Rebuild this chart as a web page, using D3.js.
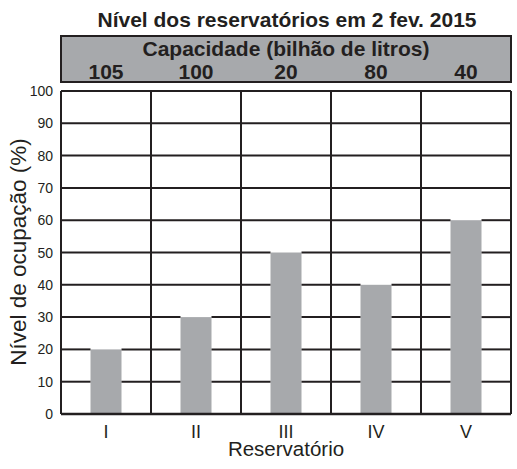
<!DOCTYPE html>
<html><head><meta charset="utf-8">
<script src="https://cdn.jsdelivr.net/npm/d3@7"></script>
<style>body{margin:0;background:#fff;} svg{display:block;font-family:"Liberation Sans",Arial,sans-serif;}</style>
</head><body>
<script>
const reservoirs = ["I","II","III","IV","V"];
const capacities = [105,100,20,80,40];
const occupancy = [20,30,50,40,60];
const yTicks = [0,10,20,30,40,50,60,70,80,90,100];

const W=517,H=469;
const L=61,R=511,T=91,B=414;
const ink="#231f20", grey="#a7a9ac";
const svg=d3.select("body").append("svg").attr("width",W).attr("height",H);

const x=d3.scaleBand().domain(reservoirs).range([L,R]);
const y=d3.scaleLinear().domain([0,100]).range([B,T]);

// title
svg.append("text").attr("x",287).attr("y",27).attr("text-anchor","middle")
  .attr("font-size",21).attr("font-weight","bold").attr("fill",ink)
  .text("Nível dos reservatórios em 2 fev. 2015");

// header box
svg.append("rect").attr("x",L).attr("y",36).attr("width",R-L).attr("height",46)
  .attr("fill",grey).attr("stroke",ink).attr("stroke-width",2);
svg.append("text").attr("x",(L+R)/2).attr("y",56).attr("text-anchor","middle")
  .attr("font-size",21).attr("font-weight","bold").attr("fill",ink)
  .text("Capacidade (bilhão de litros)");
svg.selectAll(".cap").data(capacities).join("text")
  .attr("x",(d,i)=>x(reservoirs[i])+x.bandwidth()/2).attr("y",79)
  .attr("text-anchor","middle").attr("font-size",21).attr("font-weight","bold").attr("fill",ink)
  .text(d=>d);

// bars
const bw=31;
svg.selectAll(".bar").data(occupancy).join("rect")
  .attr("x",(d,i)=>x(reservoirs[i])+x.bandwidth()/2-bw/2)
  .attr("y",d=>y(d)).attr("width",bw).attr("height",d=>B-y(d))
  .attr("fill",grey);

// grid horizontal (segments skip bars)
const g=svg.append("g").attr("stroke",ink).attr("stroke-width",2);
yTicks.forEach(t=>{
  if(t===0){ g.append("line").attr("x1",L).attr("x2",R).attr("y1",y(t)).attr("y2",y(t)).attr("stroke-width",2.5); return; }
  let segs=[[L,R]];
  reservoirs.forEach((r,i)=>{
    if(occupancy[i]>=t){
      const c=x(r)+x.bandwidth()/2, a=c-bw/2, b=c+bw/2;
      segs=segs.flatMap(([s,e])=>{
        if(b<=s||a>=e) return [[s,e]];
        const out=[]; if(a>s) out.push([s,a]); if(b<e) out.push([b,e]); return out;
      });
    }
  });
  segs.forEach(([s,e])=>g.append("line").attr("x1",s).attr("x2",e).attr("y1",y(t)).attr("y2",y(t)));
});
// verticals
[...reservoirs.map(r=>x(r)),R].forEach(v=>{
  g.append("line").attr("x1",v).attr("x2",v).attr("y1",T).attr("y2",B);
});

// y ticks
svg.selectAll(".yt").data(yTicks).join("text")
  .attr("x",53).attr("y",d=>y(d)+5).attr("text-anchor","end")
  .attr("font-size",14).attr("fill",ink).text(d=>d);

// y label
svg.append("text").attr("transform","translate(26,252) rotate(-90)")
  .attr("text-anchor","middle").attr("font-size",22.5).attr("fill",ink)
  .text("Nível de ocupação (%)");

// x labels
svg.selectAll(".xl").data(reservoirs).join("text")
  .attr("x",d=>x(d)+x.bandwidth()/2).attr("y",438).attr("text-anchor","middle")
  .attr("font-size",18).attr("fill",ink).text(d=>d);
svg.append("text").attr("x",286).attr("y",456).attr("text-anchor","middle")
  .attr("font-size",20.5).attr("fill",ink).text("Reservatório");
</script>
</body></html>
